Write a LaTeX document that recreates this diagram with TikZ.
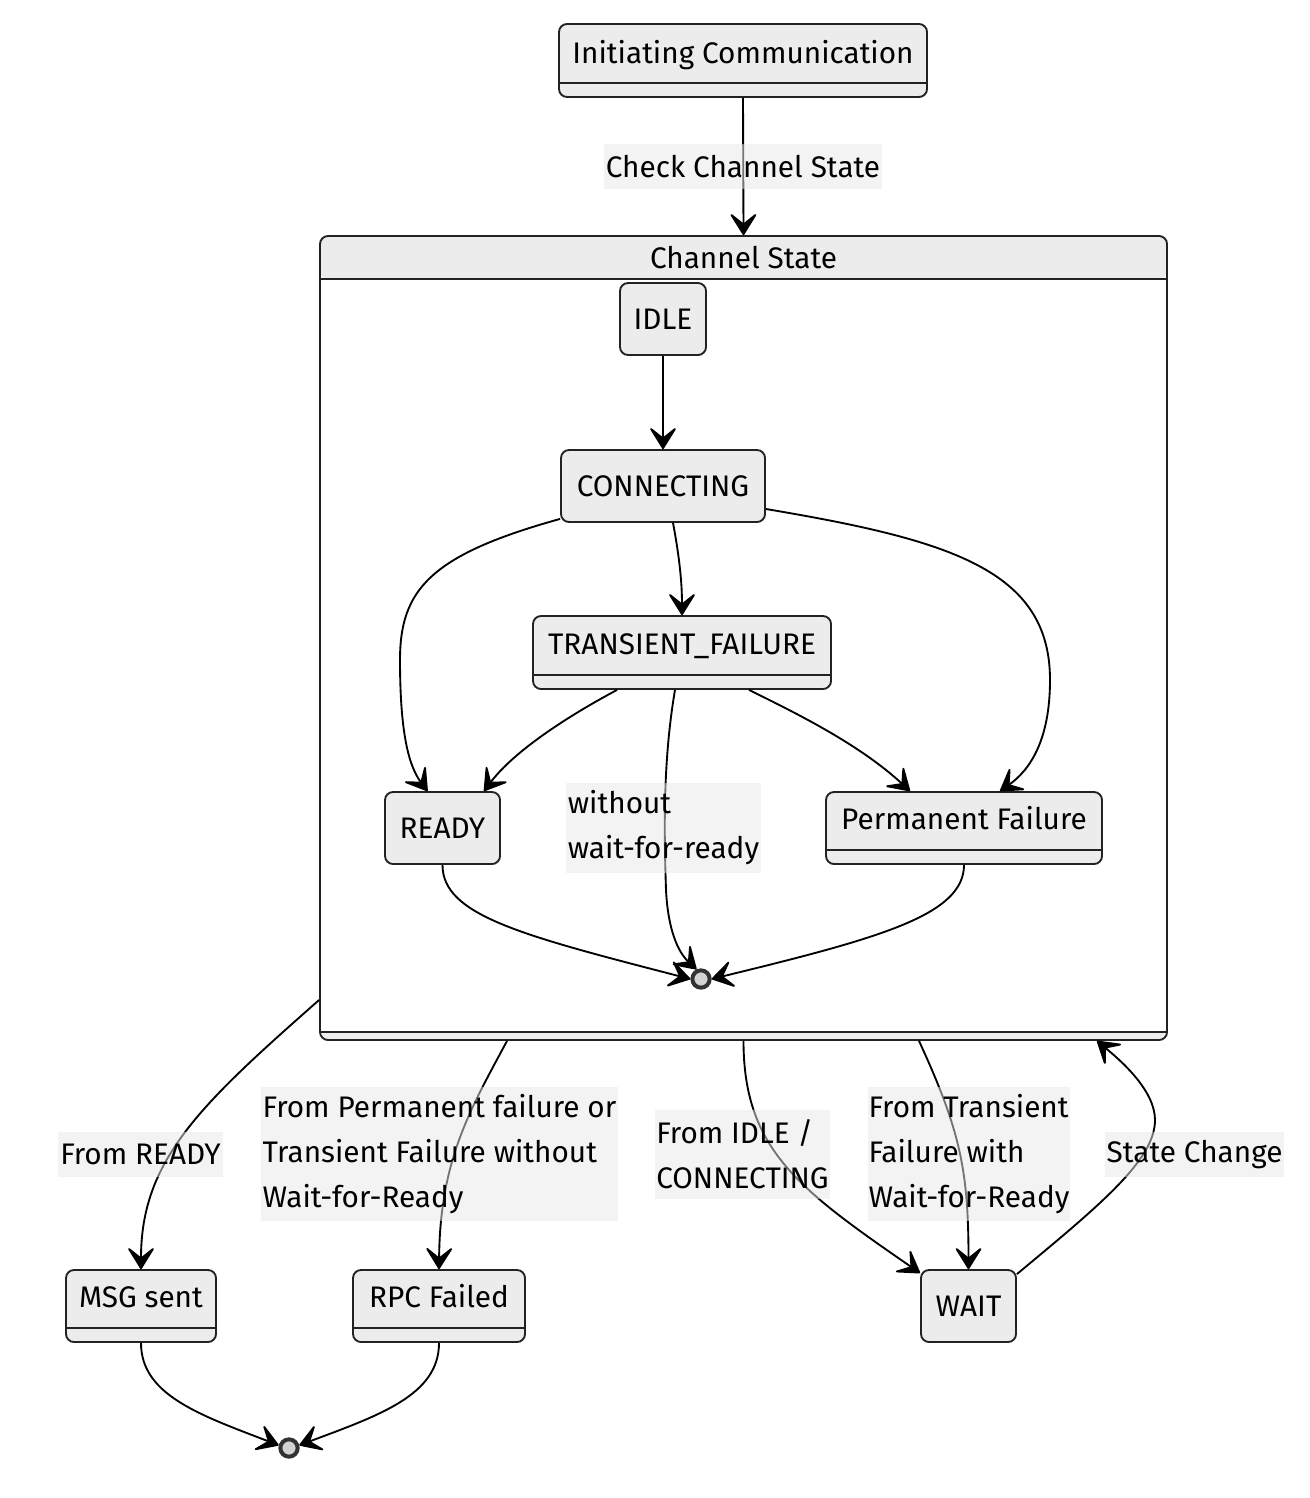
\documentclass[tikz,border=0pt]{standalone}
\usepackage{fontspec}
\setmainfont{Fira Sans}
\usetikzlibrary{arrows.meta,calc}
\definecolor{stfill}{HTML}{ECECEC}
\definecolor{stline}{HTML}{222222}
\definecolor{lblfill}{HTML}{E8E8E8}
\definecolor{endfill}{HTML}{D3D3D3}
\definecolor{endline}{HTML}{333333}
\begin{document}
\begin{tikzpicture}[x=0.75pt,y=-0.75pt,
  every node/.style={font=\fontsize{22.3}{33.75}\selectfont},
  st/.style={draw=stline, line width=1.4pt, fill=stfill, rounded corners=6pt, inner sep=0pt,
    text height=15.3pt, text depth=0pt},
  sz/.style 2 args={minimum width=#1*0.75pt, minimum height=#2*0.75pt},
  divbox/.style={path picture={\draw[stline, line width=1.4pt]
      ([yshift=10.5pt]path picture bounding box.south west) --
      ([yshift=10.5pt]path picture bounding box.south east);}},
  chanbox/.style={path picture={
      \fill[stfill] (path picture bounding box.north west) rectangle ([yshift=-32.25pt]path picture bounding box.north east);
      \fill[stfill] (path picture bounding box.south west) rectangle ([yshift=6pt]path picture bounding box.south east);
      \draw[stline, line width=1.4pt] ([yshift=-32.25pt]path picture bounding box.north west) -- ([yshift=-32.25pt]path picture bounding box.north east);
      \draw[stline, line width=1.4pt] ([yshift=6pt]path picture bounding box.south west) -- ([yshift=6pt]path picture bounding box.south east);}},
  txt/.style={inner sep=0pt, text height=15.3pt, text depth=0pt},
  endst/.style={circle, draw=endline, fill=endfill, line width=3pt, minimum size=13pt, inner sep=0pt},
  tipa/.tip={Stealth[length=18.7pt 0 0, width=23.3pt 0 0, inset=9.3pt 0 0, round]},
  edge/.style={draw=black, line width=1.4pt, -tipa},
  lbl/.style={fill=lblfill, fill opacity=0.5, text opacity=1, inner sep=0pt, align=left, text=black},
]
\useasboundingbox (0,0) rectangle (1309,1498);
\fill[white] (0,0) rectangle (1309,1498);

% states
\node[st, sz={368}{73}, divbox] (init) at (743,60.5) {};
\node[txt] (initT) at (743,53) {Initiating Communication};

\node[st, fill=white, sz={847}{804}, chanbox] (chan) at (743.5,638) {};
\node[txt] (chanT) at (743.5,258) {Channel State};

\node[st, sz={86}{72}] (idle) at (663,319) {IDLE};
\node[st, sz={204}{72}] (conn) at (663,486) {CONNECTING};
\node[st, sz={298}{73}, divbox] (tf) at (682,652.5) {};
\node[txt] (tfT) at (682,644) {TRANSIENT\_FAILURE};
\node[st, sz={115}{72}] (ready) at (442.5,828) {READY};
\node[st, sz={276}{72}, divbox] (perm) at (964,828) {};
\node[txt] (permT) at (964,819) {Permanent Failure};
\node[endst] (endin) at (701,979) {};

\node[st, sz={150}{72}, divbox] (msg) at (141,1306) {};
\node[txt] (msgT) at (141,1297) {MSG sent};
\node[st, sz={172}{72}, divbox] (rpc) at (439,1306) {};
\node[txt] (rpcT) at (439,1297) {RPC Failed};
\node[st, sz={95}{72}] (wait) at (968.5,1306) {WAIT};
\node[endst] (endout) at (289,1448) {};

% edges
\draw[edge] (init.south) -- (chan.north);
\draw[edge] (idle.south) -- (conn.north);
\draw[edge] ($(conn.south west)+(0,-4)$) .. controls (430,555) and (400,590) .. (400,660)
  .. controls (400,730) and (408,765) .. ($(ready.north)+(-15,0)$);
\draw[edge] ($(conn.south)+(10,0)$) .. controls (680,560) and (682,585) .. (tf.north);
\draw[edge] ($(conn.east)+(0,23)$) .. controls (950,540) and (1050,570) .. (1050,680)
  .. controls (1050,740) and (1030,770) .. ($(perm.north)+(36,0)$);
\draw[edge] ($(tf.south)+(-65,0)$) .. controls (570,715) and (515,750) .. ($(ready.north)+(41.5,0)$);
\draw[edge] ($(tf.south)+(67,0)$) .. controls (800,715) and (860,745) .. ($(perm.north)+(-54,0)$);
\draw[edge] ($(tf.south)+(-7,0)$) .. controls (663,760) and (664,830) .. (666,890)
  .. controls (668,930) and (678,952) .. (endin.115);
\draw[edge] (ready.south) .. controls (442.5,915) and (520,935) .. (endin.west);
\draw[edge] (perm.south) .. controls (964,915) and (880,938) .. (endin.east);

\draw[edge] ($(chan.west)+(0,362)$) .. controls (200,1105) and (141,1160) .. (msg.north);
\draw[edge] ($(chan.south)+(-236.5,0)$) .. controls (470,1110) and (440,1160) .. (rpc.north);
\draw[edge] (chan.south) .. controls (743.5,1150) and (800,1190) .. ($(wait.north west)+(0,4)$);
\draw[edge] ($(chan.south)+(175.5,0)$) .. controls (960,1130) and (968.5,1170) .. (wait.north);
\draw[edge] ($(wait.north east)+(0,5)$) .. controls (1100,1205) and (1155,1160) .. (1155,1120)
  .. controls (1155,1090) and (1120,1060) .. ($(chan.south)+(353.5,0)$);

\draw[edge] (msg.south) .. controls (141,1395) and (200,1415) .. (endout.165);
\draw[edge] (rpc.south) .. controls (439,1395) and (380,1415) .. (endout.15);

% labels
\node[lbl, sz={278}{45}] (lcheck) at (743,166.5) {Check Channel State};
\node[lbl, sz={195}{90}] (lwithout) at (663.5,828) {without\\wait-for-ready};
\node[lbl, sz={165}{45}] (lready) at (140.5,1154.5) {From READY};
\node[lbl, sz={357}{134}] (lperm) at (439.5,1154) {From Permanent failure or\\Transient Failure without\\Wait-for-Ready};
\node[lbl, sz={175}{89}] (lidle) at (742.5,1154.5) {From IDLE /\\CONNECTING};
\node[lbl, sz={202}{134}] (ltrans) at (969,1154) {From Transient\\Failure with\\Wait-for-Ready};
\node[lbl, sz={179}{45}] (lstate) at (1194.5,1154.5) {State Change};
\end{tikzpicture}
\end{document}
